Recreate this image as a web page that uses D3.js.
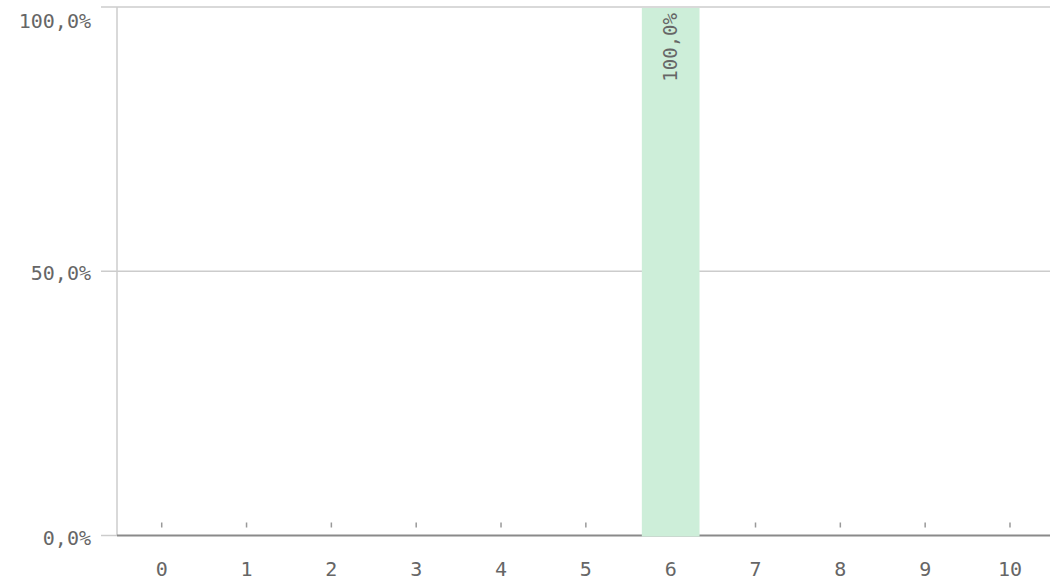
<!DOCTYPE html>
<meta charset="utf-8">
<script src="https://d3js.org/d3.v7.min.js"></script>
<style>
  body { margin: 0; background: #fff; }
  text { font-family: "DejaVu Sans Mono", monospace; fill: #666; }
</style>
<body></body>
<script>
// data
var categories = ["0", "1", "2", "3", "4", "5", "6", "7", "8", "9", "10"];
var shares = [0, 0, 0, 0, 0, 0, 1, 0, 0, 0, 0];
var yTicks = [0, 0.5, 1];

var width = 1056, height = 583;
var plotLeft = 117, plotRight = 1050, plotTop = 7, plotBottom = 535.5;

var svg = d3.select("body").append("svg")
    .attr("width", width)
    .attr("height", height);

var locale = d3.formatLocale({decimal: ",", thousands: ".", grouping: [3], currency: ["", "€"]});
var pct = locale.format(".1%");

var x = d3.scaleBand()
    .domain(categories)
    .range([119.3, 1052.4])
    .paddingInner(0.32)
    .paddingOuter(0.16);

var y = d3.scaleLinear()
    .domain([0, 1])
    .range([plotBottom, plotTop]);

// grid lines + y labels
svg.selectAll(".grid").data(yTicks.filter(function(d){ return d > 0; }))
  .enter().append("line")
    .attr("x1", 101).attr("x2", plotRight)
    .attr("y1", function(d){ return y(d); })
    .attr("y2", function(d){ return y(d); })
    .attr("stroke", "#ccc").attr("stroke-width", 1.5);

svg.append("line")
    .attr("x1", 101).attr("x2", plotLeft)
    .attr("y1", y(0)).attr("y2", y(0))
    .attr("stroke", "#ccc").attr("stroke-width", 1.5);

svg.append("line")
    .attr("x1", plotLeft).attr("x2", plotLeft)
    .attr("y1", plotTop).attr("y2", plotBottom)
    .attr("stroke", "#ccc").attr("stroke-width", 1.5);

// top label is pushed down so it stays inside the frame
svg.selectAll(".ylab").data(yTicks)
  .enter().append("text")
    .attr("x", 91)
    .attr("y", function(d){ return Math.max(y(d) + 2, 20.5); })
    .attr("dy", "0.35em")
    .attr("text-anchor", "end")
    .style("font-size", "20px")
    .text(function(d){ return pct(d); });

// baseline and small ticks
svg.append("line")
    .attr("x1", plotLeft).attr("x2", plotRight)
    .attr("y1", y(0)).attr("y2", y(0))
    .attr("stroke", "#8a8a8a").attr("stroke-width", 2);

svg.selectAll(".tick").data(categories)
  .enter().append("line")
    .attr("x1", function(d){ return x(d) + x.bandwidth() / 2; })
    .attr("x2", function(d){ return x(d) + x.bandwidth() / 2; })
    .attr("y1", 522.5).attr("y2", 527.5)
    .attr("stroke", "#999").attr("stroke-width", 1.5);

// bars
var barData = categories.map(function(c, i){ return {cat: c, v: shares[i]}; })
    .filter(function(d){ return d.v > 0; });

svg.selectAll(".bar").data(barData)
  .enter().append("rect")
    .attr("x", function(d){ return x(d.cat); })
    .attr("width", x.bandwidth())
    .attr("y", function(d){ return y(d.v) + 1; })
    .attr("height", function(d){ return y(0) + 1 - y(d.v) - 1; })
    .attr("fill", "#cdeed9");

svg.selectAll(".barlab").data(barData)
  .enter().append("text")
    .attr("transform", function(d){ return "translate(" + (x(d.cat) + x.bandwidth() / 2) + "," + (y(d.v) + 6) + ") rotate(-90)"; })
    .attr("dy", "0.35em")
    .attr("text-anchor", "end")
    .style("font-size", "19px")
    .text(function(d){ return pct(d.v); });

// x labels
svg.selectAll(".xlab").data(categories)
  .enter().append("text")
    .attr("x", function(d){ return x(d) + x.bandwidth() / 2; })
    .attr("y", 569)
    .attr("dy", "0.35em")
    .attr("text-anchor", "middle")
    .style("font-size", "20px")
    .text(function(d){ return d; });
</script>
